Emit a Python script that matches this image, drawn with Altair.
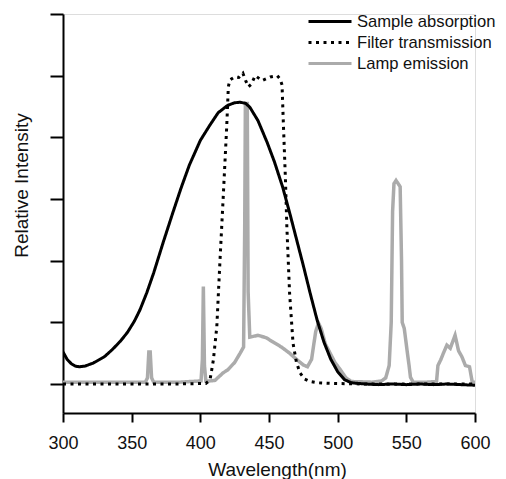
import altair as alt
import pandas as pd

# ---- data ----
series_names = ["Sample absorption", "Filter transmission", "Lamp emission"]

abs_wl = [300, 303, 306, 309, 312, 316, 322, 330, 336, 342, 347, 352, 356, 361, 366, 373, 380, 386,
          392, 396, 400, 407, 413, 420, 425, 429, 433, 436, 442, 448.6, 454, 460, 465, 470, 475,
          480, 485, 490, 495, 500, 505, 510, 520, 530, 540, 550, 560, 570, 580, 590, 600]
abs_val = [0.52, 0.40, 0.33, 0.29, 0.28, 0.29, 0.34, 0.44, 0.56, 0.70, 0.84, 1.02, 1.20, 1.48, 1.80, 2.30,
           2.78, 3.18, 3.55, 3.75, 3.95, 4.20, 4.40, 4.52, 4.56, 4.57, 4.55, 4.49, 4.27, 3.92, 3.60,
           3.19, 2.78, 2.35, 1.92, 1.47, 1.04, 0.68, 0.40, 0.20, 0.07, 0.02, 0.0, -0.01, 0.0, -0.01,
           0.0, -0.01, 0.0, -0.01, -0.02]

filt_wl = [300, 340, 380, 404, 407, 409.5, 412, 414.3, 416.8, 419.2, 420.4, 421.5, 425, 428, 431,
           433, 435, 437, 440, 445, 451, 456, 458, 459.5, 460.5, 462, 463, 465, 467.5, 470, 472.6,
           476, 480, 485, 495, 520, 560, 600]
filt_val = [0, 0, 0, 0.01, 0.06, 0.39, 0.93, 2.0, 3.09, 4.17, 4.82, 4.93, 4.98, 4.97, 5.04,
            4.92, 4.82, 4.86, 5.0, 4.92, 4.98, 5.0, 4.95, 4.85, 4.2, 3.3, 2.55, 1.47, 0.66, 0.35, 0.18,
            0.08, 0.04, 0.02, 0.01, 0, 0, 0]

lamp_wl = [300, 330, 360, 361.5, 362.5, 363.5, 364.5, 366, 385, 400.5, 401.5, 402.2, 403, 404,
           407, 410.7, 416.5, 420, 425, 429, 431.5, 432.3, 432.8, 434.2, 434.8, 436, 442, 448, 453,
           459, 465, 470, 475, 478, 481, 484, 486, 488, 491, 494.5, 498, 502, 506, 510, 525, 532,
           535, 537.5, 539, 540, 541, 542.5, 544, 545.5, 546.5, 547, 548.5, 550.5, 552, 553, 555,
           565, 572, 573, 575, 577, 579.5, 582, 584, 585.5, 588, 590.5, 593, 596, 598, 600]
lamp_val = [0.03, 0.03, 0.03, 0.1, 0.52, 0.52, 0.1, 0.03, 0.03, 0.05, 0.4, 1.58, 0.3, 0.05,
            0.05, 0.06, 0.18, 0.23, 0.35, 0.5, 0.6, 2.5, 4.55, 4.55, 1.5, 0.76, 0.79, 0.75, 0.68,
            0.6, 0.5, 0.4, 0.31, 0.28, 0.4, 0.85, 0.99, 0.9, 0.65, 0.5, 0.35, 0.23, 0.1, 0.04, 0.03,
            0.05, 0.1, 0.3, 1.0, 2.8, 3.25, 3.3, 3.25, 3.2, 2.0, 1.0, 0.9, 0.55, 0.3, 0.11, 0.03,
            0.03, 0.04, 0.3, 0.39, 0.5, 0.63, 0.58, 0.7, 0.79, 0.54, 0.44, 0.3, 0.28, 0.03, 0.03]

x_ticks = [300, 350, 400, 450, 500, 550, 600]
y_ticks = [0, 1, 2, 3, 4, 5, 6]

rows = []
for name, wl, val in [(series_names[0], abs_wl, abs_val),
                      (series_names[1], filt_wl, filt_val),
                      (series_names[2], lamp_wl, lamp_val)]:
    for i, (w, v) in enumerate(zip(wl, val)):
        rows.append({"wl": w, "val": v, "series": name, "idx": i})
df = pd.DataFrame(rows)

FONT = "Liberation Sans"

x_enc = alt.X("wl:Q",
              scale=alt.Scale(domain=[300, 600], nice=False, zero=False),
              axis=alt.Axis(values=x_ticks, title="Wavelength(nm)", grid=False,
                            tickSize=9, tickWidth=2, domainWidth=2, domainColor="black",
                            tickColor="black", labelFontSize=18, labelFont=FONT,
                            labelColor="#111111", labelPadding=12, labelBaseline="top",
                            labelFlush=False,
                            titleFont=FONT, titleFontSize=19, titleFontWeight="normal",
                            titleColor="#111111", titleX=214, titleY=62,
                            titleBaseline="alphabetic", titleAlign="center"))
y_enc = alt.Y("val:Q",
              scale=alt.Scale(domain=[-0.47, 6], nice=False, zero=False),
              axis=alt.Axis(values=y_ticks, labels=False, title="Relative Intensity", grid=False,
                            tickSize=13, tickWidth=2, domainWidth=2, domainColor="black",
                            tickColor="black",
                            titleFont=FONT, titleFontSize=19, titleFontWeight="normal",
                            titleColor="#111111", titleX=-36, titleY=171, titleAngle=-90,
                            titleBaseline="alphabetic", titleAlign="center"))

def make_legend():
    return alt.Legend(title=None, orient="none", legendX=244, legendY=-3,
                      symbolType="stroke", symbolSize=1849, clipHeight=21,
                      symbolStrokeWidth=3, labelFont=FONT, labelFontSize=16.6,
                      labelColor="#111111", labelOffset=4, rowPadding=0,
                      padding=0, labelLimit=300)

color_enc = alt.Color("series:N",
                      scale=alt.Scale(domain=series_names, range=["#000000", "#000000", "#ababab"]),
                      legend=make_legend())
dash_enc = alt.StrokeDash("series:N",
                          scale=alt.Scale(domain=series_names, range=[[1, 0], [3, 4.5], [1, 0]]),
                          legend=make_legend())

def layer(name, width):
    return alt.Chart(df).transform_filter(alt.datum.series == name).mark_line(
        strokeWidth=width, interpolate="linear", clip=True
    ).encode(x=x_enc, y=y_enc, color=color_enc, strokeDash=dash_enc, order="idx:Q")

chart = alt.layer(
    layer("Lamp emission", 3.5),
    layer("Filter transmission", 3),
    layer("Sample absorption", 3),
).properties(
    width=412, height=399,
    autosize=alt.AutoSizeParams(type="none"),
    padding={"left": 55, "top": 6, "right": 23, "bottom": 66},
).configure_view(stroke=None).configure(background="white")

chart.save("out.html", embed_options={"renderer": "svg", "actions": False})
